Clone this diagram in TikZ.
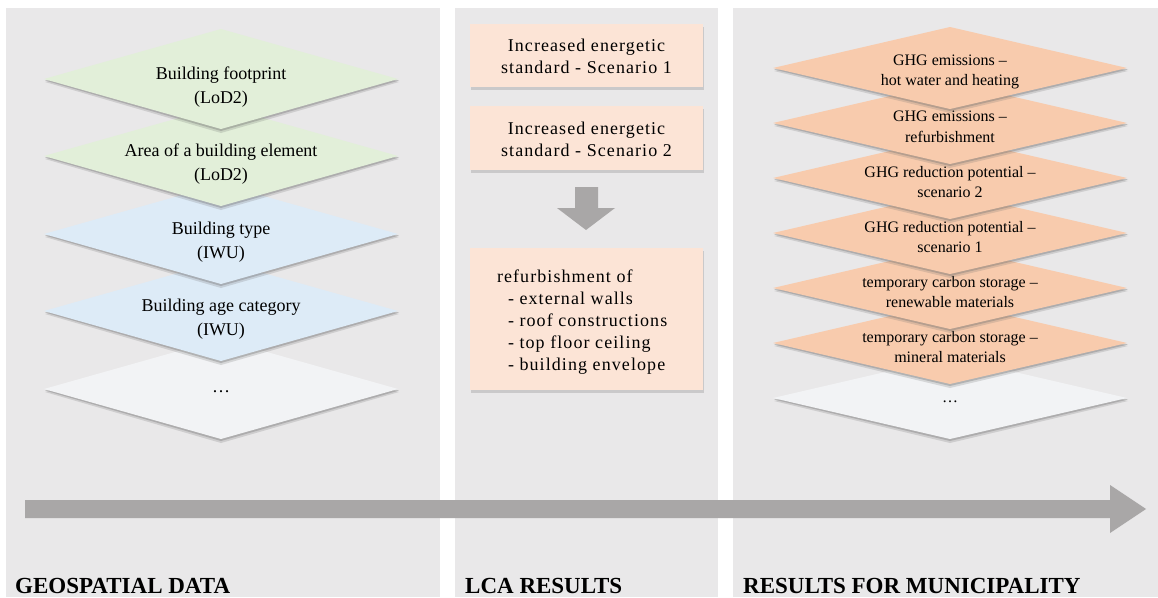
\documentclass[tikz,border=0pt]{standalone}
\usepackage{fontspec}
\setmainfont{Liberation Serif}
\newfontfamily\spacedfont[LetterSpace=6]{Liberation Serif}
\definecolor{panelc}{HTML}{E9E8E9}
\definecolor{greenc}{HTML}{E2EFD9}
\definecolor{bluec}{HTML}{DDEBF7}
\definecolor{whitec}{HTML}{F2F3F5}
\definecolor{orangec}{HTML}{F8CBAD}
\definecolor{peachc}{HTML}{FCE4D6}
\definecolor{arrowc}{HTML}{A9A7A7}
\definecolor{shadowc}{HTML}{707070}
\newcommand{\layer}[5]{%
  \fill[shadowc, opacity=0.22] (#1-#3+1,#2+3) -- (#1,#2-#4+3) -- (#1+#3+1,#2+3) -- (#1,#2+#4+4) -- cycle;
  \fill[shadowc, opacity=0.35] (#1-#3+1,#2+1.5) -- (#1,#2-#4+1.5) -- (#1+#3+1,#2+1.5) -- (#1,#2+#4+2) -- cycle;
  \fill[#5] (#1-#3,#2) -- (#1,#2-#4) -- (#1+#3,#2) -- (#1,#2+#4) -- cycle;
}
\tikzset{
  ltext/.style={align=center, inner sep=0pt, font=\fontsize{18}{24}\selectfont},
  rtext/.style={align=center, inner sep=0pt, font=\fontsize{16}{20.5}\selectfont},
  mbox/.style={fill=peachc, inner sep=0pt, minimum width=233pt},
  mtext/.style={inner sep=0pt, font=\spacedfont\fontsize{18}{22}\selectfont},
  title/.style={anchor=base west, inner sep=0pt, font=\bfseries\fontsize{23}{27}\selectfont},
}
\begin{document}
\begin{tikzpicture}[x=1pt,y=-1pt]
\useasboundingbox (0,0) rectangle (1158,597);
\fill[white] (0,0) rectangle (1158,597);
% panels
\fill[panelc] (6,8) rectangle (440,597);
\fill[panelc] (455,8) rectangle (718,597);
\fill[panelc] (733,8) rectangle (1158,597);

% left stack (drawn bottom first)
\layer{221}{389}{177}{50}{whitec}
\node[ltext] (l5) at (221,392) {\dots};
\layer{221}{311}{177}{50}{bluec}
\node[ltext] (l4) at (221,319) {Building age category\\(IWU)};
\layer{221}{234}{177}{50}{bluec}
\node[ltext] (l3) at (221,242) {Building type\\(IWU)};
\layer{221}{156}{177}{50}{greenc}
\node[ltext] (l2) at (221,164) {Area of a building element\\(LoD2)};
\layer{221}{79}{177}{50}{greenc}
\node[ltext] (l1) at (221,87) {Building footprint\\(LoD2)};

% middle boxes
\fill[shadowc, opacity=0.25] (471,27) rectangle (704,90);
\fill[shadowc, opacity=0.25] (471,109) rectangle (704,173);
\fill[shadowc, opacity=0.25] (471,251) rectangle (704,393);
\node[mbox, minimum height=63pt] (m1) at (586.5,55.5) {};
\node[mtext, align=center] (m1t) at ([yshift=-1pt]m1.center) {Increased energetic\\standard - Scenario 1};
\node[mbox, minimum height=64pt] (m2) at (586.5,138) {};
\node[mtext, align=center] (m2t) at ([yshift=-1pt]m2.center) {Increased energetic\\standard - Scenario 2};
\node[mbox, minimum height=142pt] (m3) at (586.5,319) {};
\node[mtext, align=left, anchor=west] (m3t) at ([xshift=27pt,yshift=-3pt]m3.west)
  {refurbishment of\\\hspace*{11pt}- external walls\\\hspace*{11pt}- roof constructions\\\hspace*{11pt}- top floor ceiling\\\hspace*{11pt}- building envelope};
\fill[arrowc] (575,187) -- (598,187) -- (598,208) -- (615,208) -- (586,230) -- (557,208) -- (575,208) -- cycle;

% right stack
\layer{950}{398}{177}{41}{whitec}
\node[rtext] (r7) at (950,402) {\dots};
\layer{950}{343}{177}{41}{orangec}
\node[rtext] (r6) at (950,347) {temporary carbon storage --\\mineral materials};
\layer{950}{288}{177}{41}{orangec}
\node[rtext] (r5) at (950,292) {temporary carbon storage --\\renewable materials};
\layer{950}{233}{177}{41}{orangec}
\node[rtext] (r4) at (950,237) {GHG reduction potential --\\scenario 1};
\layer{950}{178}{177}{41}{orangec}
\node[rtext] (r3) at (950,182) {GHG reduction potential --\\scenario 2};
\layer{950}{123}{177}{41}{orangec}
\node[rtext] (r2) at (950,127) {GHG emissions --\\refurbishment};
\layer{950}{68}{177}{41}{orangec}
\node[rtext] (r1) at (950,72) {GHG emissions --\\hot water and heating};

% timeline arrow
\fill[arrowc] (25,500) -- (1110,500) -- (1110,485) -- (1146,509) -- (1110,533) -- (1110,518) -- (25,518) -- cycle;

% titles
\node[title] (t1) at (15,593) {GEOSPATIAL DATA};
\node[title] (t2) at (465,593) {LCA RESULTS};
\node[title] (t3) at (743,593) {RESULTS FOR MUNICIPALITY};
\end{tikzpicture}
\end{document}
